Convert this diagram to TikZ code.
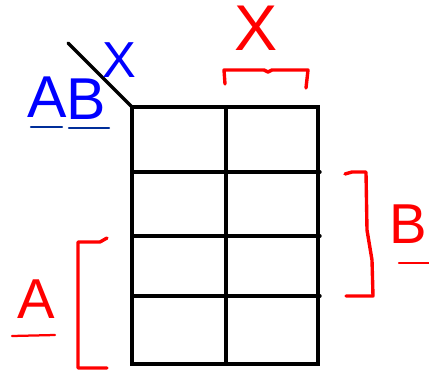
\documentclass[tikz,border=0pt]{standalone}
\usepackage{fontspec}
\setsansfont{Liberation Sans}
\usetikzlibrary{positioning}
\tikzset{
  gridln/.style={line width=2.4pt,black,line cap=round},
  redln/.style={line width=2.4pt,red,line cap=round,line join=round},
  ulblue/.style={line width=1.6pt,blue!70!cyan!60!black,line cap=round},
  ulred/.style={line width=1.6pt,red,line cap=round},
  bigl/.style={font=\sffamily\fontsize{36}{36}\selectfont,inner sep=0pt},
}
\begin{document}
\begin{tikzpicture}[x=0.025cm,y=-0.025cm]
  \useasboundingbox (0,0) rectangle (429,376);
  % map frame
  \coordinate (nw) at (132,107);
  \coordinate (ne) at (318,107);
  \coordinate (sw) at (132,364);
  \coordinate (se) at (318,364);
  \coordinate (tick) at (68,43);
  \draw[gridln] (nw) rectangle (se);
  \draw[gridln] (226,107)--(226,364);
  \foreach \yy in {172,236,296}
    \draw[gridln] (132,\yy)--(320,\yy);
  \draw[gridln] (tick)--(nw);
  % labels of the corner
  \node[bigl,blue] (xcol) at (119,60) {X};
  \node[bigl,blue,font=\sffamily\fontsize{42}{42}\selectfont] (la) at (47,97) {A};
  \node[bigl,blue,font=\sffamily\fontsize{42}{42}\selectfont] (lb) at (86,99) {B};
  \draw[ulblue] (31,127)--(62,127);
  \draw[ulblue] (69,128)--(109,128);
  % X bracket
  \node[bigl,red,font=\sffamily\fontsize{46}{46}\selectfont] (xr) at (256,28) {X};
  \draw[redln] (225,84)--(224,70)--(264,70)--(268,72)--(272,70)--(308,70)--(306,88);
  % B bracket
  \draw[redln] (345,174)--(352,172)--(366,172)--(367,230)--(372,260)--(373,296)--(346,296);
  \node[bigl,red,font=\sffamily\fontsize{40}{40}\selectfont] (br) at (408,224) {B};
  \draw[ulred] (399,263)--(429,263);
  % A bracket
  \draw[redln] (107,238)--(100,242)--(78,242)--(78,368)--(107,368);
  \node[bigl,red,font=\sffamily\fontsize{40}{40}\selectfont] (ar) at (36,299) {A};
  \draw[ulred] (12,336)--(55,335);
\end{tikzpicture}
\end{document}
